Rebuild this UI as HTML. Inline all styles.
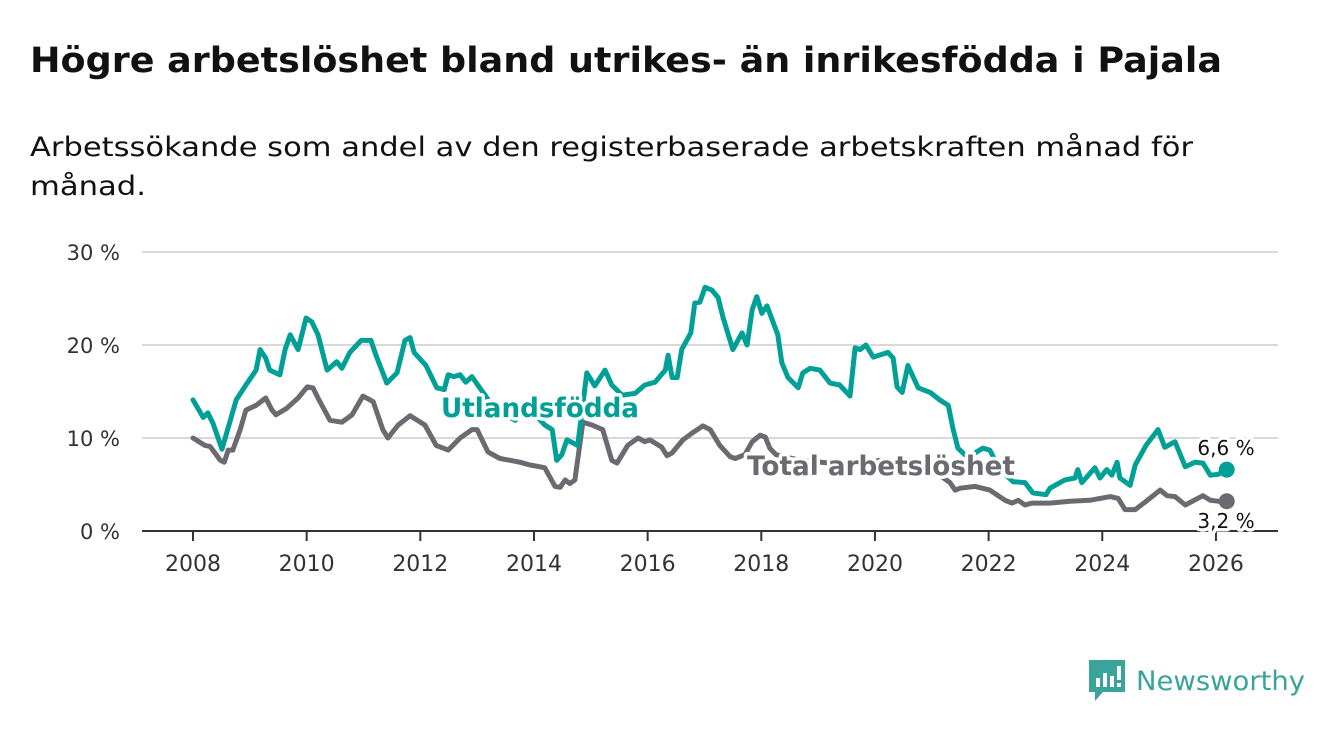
<!DOCTYPE html>
<html><head><meta charset="utf-8"><style>
body{margin:0;background:#fff;width:1340px;height:734px;overflow:hidden;font-family:"DejaVu Sans","Liberation Sans",sans-serif}
svg{position:absolute;left:0;top:0}
</style></head><body>
<svg id="chart" width="1340" height="734">
<text x="30" y="72" font-size="35" font-weight="bold" fill="#111" textLength="1192" lengthAdjust="spacingAndGlyphs">Högre arbetslöshet bland utrikes- än inrikesfödda i Pajala</text>
<text x="30" y="156" font-size="27" fill="#111" textLength="1163" lengthAdjust="spacingAndGlyphs">Arbetssökande som andel av den registerbaserade arbetskraften månad för</text>
<text x="30" y="195" font-size="27" fill="#111" textLength="116" lengthAdjust="spacingAndGlyphs">månad.</text>
<g>
<path d="M1089 660H1125V692H1103L1095 701V692H1089Z" fill="#3aa39a"/><rect x="1096" y="678" width="4" height="9" fill="#fff"/><rect x="1103" y="673" width="4" height="14" fill="#fff"/><rect x="1110" y="676" width="4" height="11" fill="#fff"/><rect x="1117" y="666" width="4" height="14" fill="#fff"/><rect x="1117" y="683" width="4" height="4" fill="#fff"/>
<text x="1136" y="690" font-size="27" fill="#3aa39a" textLength="169" lengthAdjust="spacingAndGlyphs">Newsworthy</text>
</g>
</svg>
<script>
const yTicks=[0,10,20,30];
const yTickLabels=["0 %","10 %","20 %","30 %"];
const xTicks=[2008,2010,2012,2014,2016,2018,2020,2022,2024,2026];
const foreignYears=[2008.00,2008.18,2008.26,2008.35,2008.51,2008.58,2008.76,2008.93,2009.11,2009.18,2009.28,2009.35,2009.53,2009.62,2009.71,2009.85,2009.99,2010.09,2010.20,2010.36,2010.53,2010.62,2010.76,2010.96,2011.13,2011.22,2011.41,2011.59,2011.73,2011.82,2011.89,2012.10,2012.29,2012.42,2012.49,2012.59,2012.70,2012.80,2012.91,2013.01,2013.14,2013.31,2013.49,2013.67,2013.84,2014.02,2014.19,2014.32,2014.40,2014.49,2014.58,2014.77,2014.93,2015.07,2015.25,2015.37,2015.55,2015.78,2015.95,2016.13,2016.31,2016.36,2016.43,2016.52,2016.60,2016.76,2016.83,2016.92,2017.01,2017.13,2017.24,2017.33,2017.50,2017.66,2017.75,2017.84,2017.92,2018.01,2018.10,2018.29,2018.36,2018.47,2018.65,2018.73,2018.86,2019.03,2019.21,2019.38,2019.56,2019.65,2019.74,2019.84,2019.97,2020.23,2020.32,2020.39,2020.48,2020.58,2020.76,2020.97,2021.14,2021.29,2021.37,2021.46,2021.58,2021.71,2021.90,2022.02,2022.20,2022.43,2022.64,2022.78,2023.01,2023.08,2023.34,2023.52,2023.57,2023.64,2023.87,2023.96,2024.08,2024.17,2024.26,2024.31,2024.49,2024.58,2024.77,2024.98,2025.10,2025.28,2025.46,2025.63,2025.77,2025.90,2026.04,2026.19];
const foreignValues=[14.1,12.2,12.7,11.6,8.8,10.3,14.1,15.7,17.3,19.5,18.6,17.3,16.8,19.5,21.1,19.5,22.9,22.5,21.1,17.3,18.2,17.5,19.2,20.5,20.5,18.9,15.9,17.0,20.5,20.8,19.2,17.8,15.4,15.2,16.8,16.6,16.8,16.0,16.6,15.7,14.6,13.0,12.5,11.9,13.0,12.5,11.4,10.9,7.6,8.2,9.8,9.2,17.0,15.6,17.3,15.7,14.6,14.8,15.7,16.0,17.3,18.9,16.5,16.5,19.5,21.3,24.5,24.6,26.2,25.9,25.1,22.9,19.5,21.3,20.0,23.8,25.2,23.4,24.2,21.1,18.1,16.5,15.4,17.0,17.5,17.3,15.9,15.7,14.5,19.7,19.5,20.0,18.7,19.2,18.6,15.5,14.9,17.8,15.4,14.9,14.1,13.5,11.1,8.9,8.2,8.2,8.9,8.7,6.6,5.3,5.2,4.1,3.9,4.6,5.5,5.7,6.6,5.2,6.8,5.7,6.6,6.0,7.4,5.7,4.9,7.1,9.2,10.9,9.0,9.6,6.9,7.4,7.3,6.0,6.1,6.6];
const totalYears=[2008.00,2008.21,2008.30,2008.48,2008.55,2008.62,2008.70,2008.83,2008.93,2009.11,2009.28,2009.39,2009.46,2009.65,2009.85,2010.01,2010.11,2010.20,2010.41,2010.62,2010.80,2010.99,2011.17,2011.34,2011.43,2011.61,2011.82,2012.08,2012.28,2012.49,2012.70,2012.91,2013.00,2013.19,2013.40,2013.58,2013.75,2013.93,2014.11,2014.19,2014.37,2014.46,2014.55,2014.63,2014.72,2014.86,2015.02,2015.21,2015.37,2015.46,2015.65,2015.83,2015.95,2016.04,2016.25,2016.34,2016.43,2016.62,2016.80,2016.97,2017.10,2017.27,2017.45,2017.54,2017.71,2017.84,2017.98,2018.07,2018.15,2018.26,2018.68,2019.56,2020.09,2020.62,2021.14,2021.32,2021.41,2021.50,2021.76,2022.02,2022.29,2022.41,2022.52,2022.64,2022.76,2023.08,2023.43,2023.78,2024.14,2024.28,2024.40,2024.58,2024.75,2025.02,2025.14,2025.28,2025.46,2025.77,2025.90,2026.04,2026.19];
const totalValues=[10.0,9.2,9.1,7.6,7.4,8.7,8.7,10.9,13.0,13.5,14.3,13.0,12.5,13.2,14.3,15.5,15.4,14.3,11.9,11.7,12.5,14.5,13.9,10.9,10.0,11.4,12.4,11.4,9.2,8.7,10.0,10.9,10.9,8.5,7.8,7.6,7.4,7.1,6.9,6.8,4.8,4.7,5.5,5.1,5.5,11.7,11.4,10.9,7.6,7.3,9.2,10.0,9.6,9.8,9.0,8.1,8.4,9.8,10.6,11.3,10.9,9.2,8.0,7.8,8.2,9.6,10.3,10.1,8.9,8.2,7.6,7.1,7.6,6.6,6.0,5.2,4.4,4.6,4.8,4.4,3.3,3.0,3.3,2.8,3.0,3.0,3.2,3.3,3.7,3.5,2.3,2.3,3.1,4.4,3.8,3.7,2.8,3.8,3.3,3.2,3.2];
const lastLabels=["6,6 %","3,2 %"];

const NS="http://www.w3.org/2000/svg";
const svg=document.getElementById('chart');
const x=y=>193+(y-2008)*56.83;
const yS=v=>531-v*9.3;
function mk(t,a,p){const e=document.createElementNS(NS,t);for(const k in a)e.setAttribute(k,a[k]);(p||svg).appendChild(e);return e;}
yTicks.forEach((t,i)=>{
  if(t>0){const g=mk('line',{x1:142,x2:1278,y1:yS(t),y2:yS(t),stroke:'#d9d9d9','stroke-width':2});
  
  }
  const l=mk('text',{x:120,y:yS(t)+8,'text-anchor':'end','font-size':21,fill:'#333'});l.textContent=yTickLabels[i];
  
  
});
xTicks.forEach(t=>{
  const tk=mk('line',{x1:x(t),x2:x(t),y1:531,y2:541,stroke:'#333','stroke-width':2});
  
  
  const l=mk('text',{x:x(t),y:571,'text-anchor':'middle','font-size':22,fill:'#333'});l.textContent=t;
  
  
});
const ax=mk('line',{x1:142,x2:1278,y1:531,y2:531,stroke:'#333','stroke-width':2});


function line(ys,vs,col,name){
  const d=ys.map((yr,i)=>(i?'L':'M')+x(yr).toFixed(1)+','+yS(vs[i]).toFixed(1)).join('');
  const p=mk('path',{d:d,fill:'none',stroke:col,'stroke-width':5,'stroke-linejoin':'round','stroke-linecap':'round'});
  
  
  const n=ys.length-1;
  const c=mk('circle',{cx:x(ys[n]),cy:yS(vs[n]),r:8,fill:col});
  
  
}
line(totalYears,totalValues,'#6b6a70','total-line');
line(foreignYears,foreignValues,'#00a096','foreign-line');
function lab(tx,xx,yy,col,size,bold,name,anchor,len){
  const a={x:xx,y:yy,'font-size':size,'font-weight':bold?'bold':'normal',fill:col,stroke:'#fff','stroke-width':7,'paint-order':'stroke','stroke-linejoin':'round','text-anchor':anchor||'start'};
  if(len){a.textLength=len;a.lengthAdjust='spacingAndGlyphs';}
  const t=mk('text',a);
  t.textContent=tx;
  
  
}
lab('Utlandsfödda',441,417,'#00a096',27,true,'foreign-series-label','start',198);
lab('Total arbetslöshet',747,475,'#6b6a70',27,true,'total-series-label','start',268);
lab(lastLabels[0],1226,455,'#111',20,false,'foreign-last-value','middle');
lab(lastLabels[1],1226,528,'#111',20,false,'total-last-value','middle');
</script>
</body></html>
